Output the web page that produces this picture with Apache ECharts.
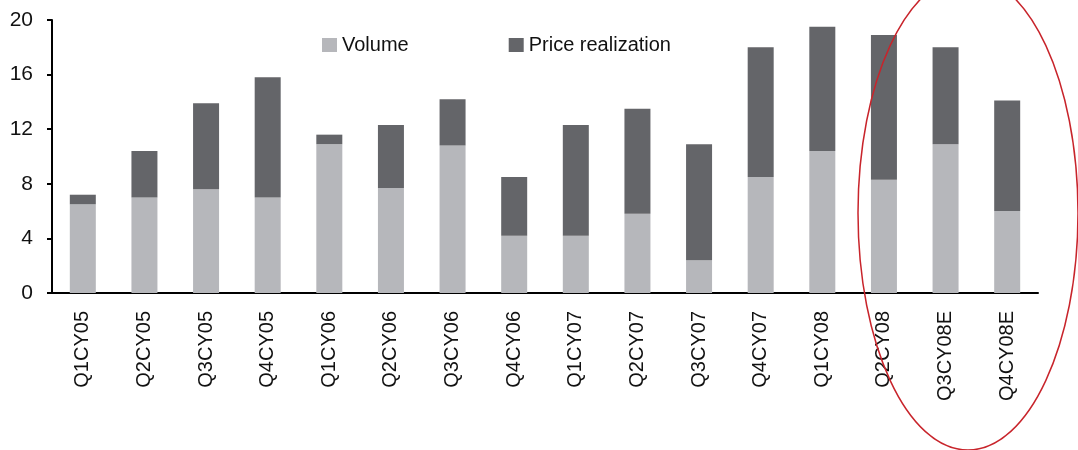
<!DOCTYPE html>
<html>
<head>
<meta charset="utf-8">
<script src="https://cdn.jsdelivr.net/npm/echarts@6/dist/echarts.min.js"></script>
<style>
  html, body { margin: 0; padding: 0; background: #fff; }
  #chart { width: 1078px; height: 450px; }
</style>
</head>
<body>
<div id="chart"></div>
<script>
const quarters = ['Q1CY05', 'Q2CY05', 'Q3CY05', 'Q4CY05', 'Q1CY06', 'Q2CY06', 'Q3CY06', 'Q4CY06',
  'Q1CY07', 'Q2CY07', 'Q3CY07', 'Q4CY07', 'Q1CY08', 'Q2CY08', 'Q3CY08E', 'Q4CY08E'];
const volume = [6.5, 7.0, 7.6, 7.0, 10.9, 7.7, 10.8, 4.2, 4.2, 5.8, 2.4, 8.5, 10.4, 8.3, 10.9, 6.0];
const priceRealization = [0.7, 3.4, 6.3, 8.8, 0.7, 4.6, 3.4, 4.3, 8.1, 7.7, 8.5, 9.5, 9.1, 10.6, 7.1, 8.1];
const yTicks = { min: 0, max: 20, interval: 4 };

const chart = echarts.init(document.getElementById('chart'));
const font = 'Liberation Sans, Arial, sans-serif';

chart.setOption({
  animation: false,
  grid: { left: 52, right: 40, top: 20, bottom: 157 },
  legend: {
    left: 317, top: 30,
    itemWidth: 15, itemHeight: 14, itemGap: 100,
    icon: 'rect',
    textStyle: { fontFamily: font, fontSize: 20, color: '#111' },
    data: ['Volume', 'Price realization']
  },
  xAxis: {
    type: 'category',
    data: quarters,
    axisLine: { lineStyle: { color: '#000', width: 2 } },
    axisTick: { length: 6, lineStyle: { color: '#000', width: 2 } },
    axisLabel: { rotate: 90, margin: 18, fontFamily: font, fontSize: 20, color: '#111' }
  },
  yAxis: {
    type: 'value',
    min: yTicks.min, max: yTicks.max, interval: yTicks.interval,
    splitLine: { show: false },
    axisLine: { show: true, lineStyle: { color: '#000', width: 2 } },
    axisTick: { show: true, length: 5, lineStyle: { color: '#000', width: 2 } },
    axisLabel: { margin: 19, fontFamily: font, fontSize: 21, color: '#111' }
  },
  series: [
    { name: 'Volume', type: 'bar', stack: 'q', barWidth: 26, itemStyle: { color: '#b6b7bb' }, data: volume },
    { name: 'Price realization', type: 'bar', stack: 'q', barWidth: 26, itemStyle: { color: '#646569' }, data: priceRealization }
  ],
  graphic: [{
    type: 'ellipse', z: 100,
    shape: { cx: 968, cy: 213, rx: 110, ry: 237 },
    style: { fill: 'none', stroke: '#c8242b', lineWidth: 1.5 }
  }]
});
</script>
</body>
</html>
